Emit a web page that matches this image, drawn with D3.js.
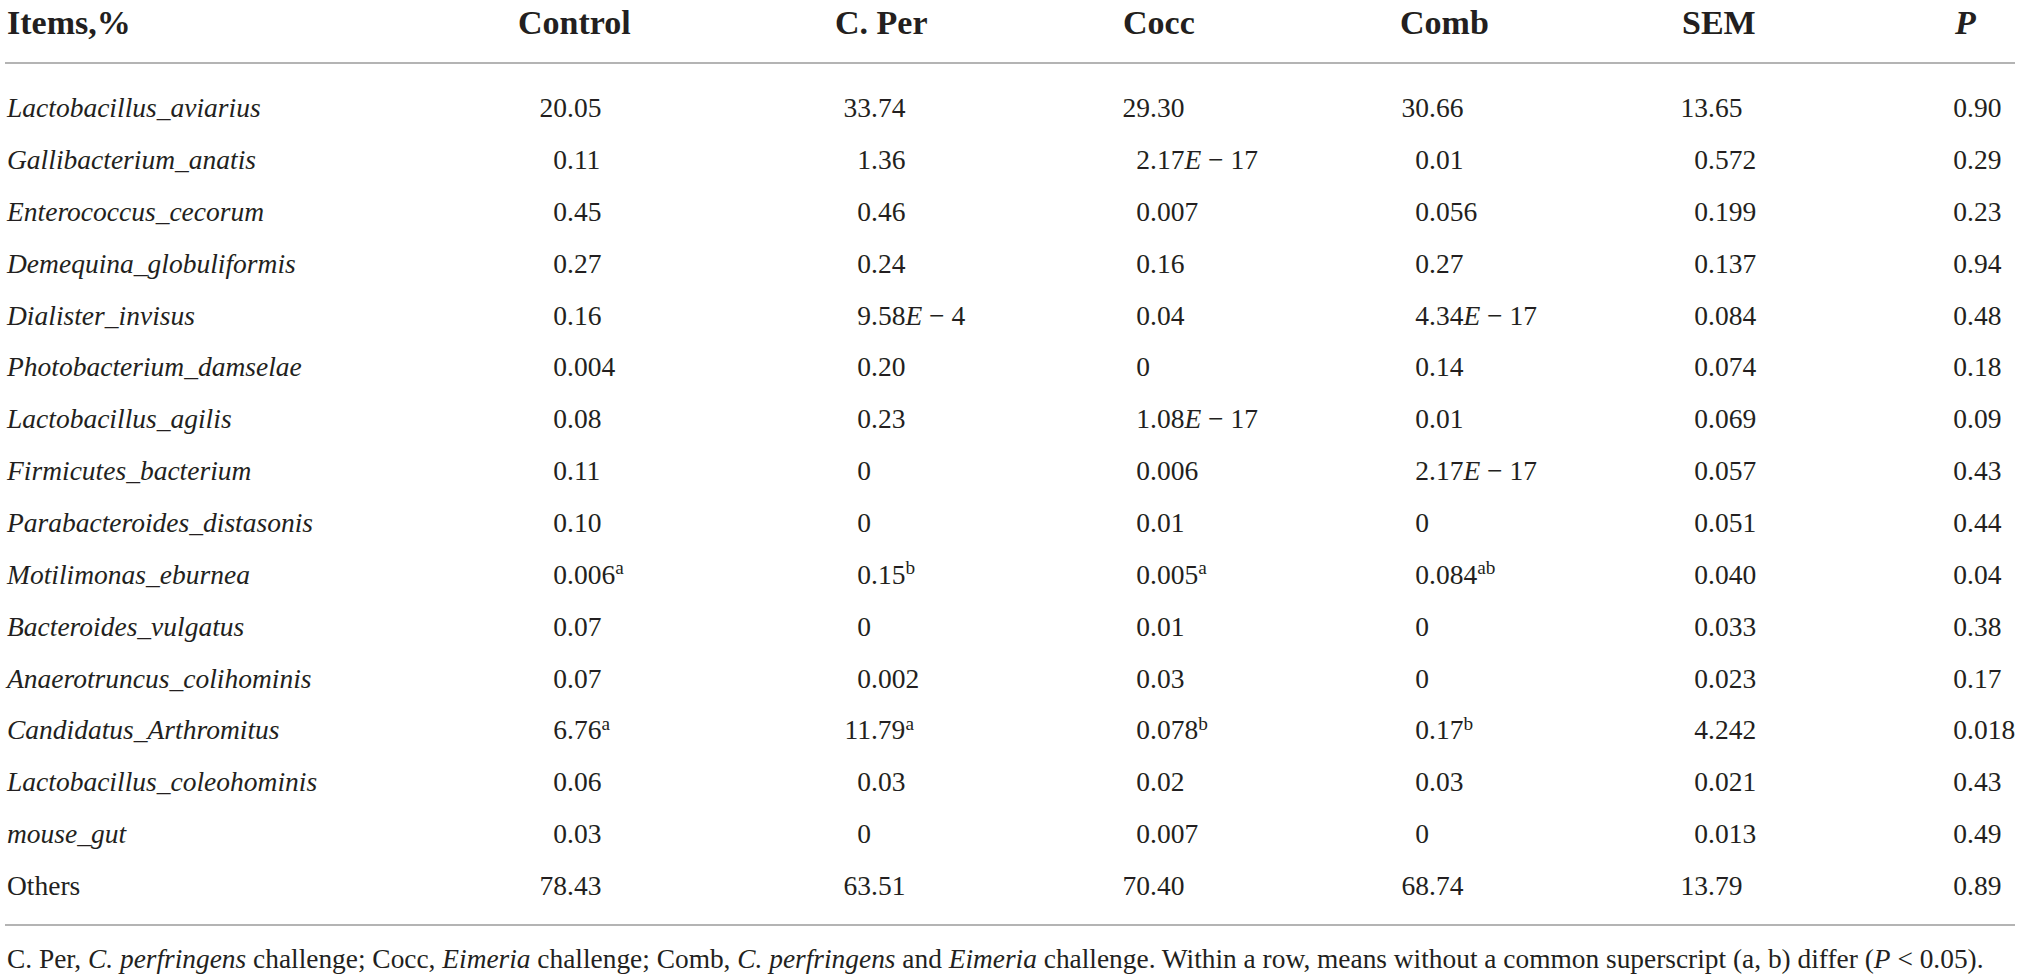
<!DOCTYPE html>
<html>
<head>
<meta charset="utf-8">
<script src="https://cdn.jsdelivr.net/npm/d3@7"></script>
<style>
    body { margin: 0; background: #fff; }
    svg text { font-family: "Liberation Serif", "Times New Roman", serif; fill: #231f20; }
</style>
</head>
<body>
<div class="table"></div>
<script>

// Datos de la tabla
const columns = ["Control", "C. Per", "Cocc", "Comb", "SEM", "P"];

const items = [
    "Lactobacillus_aviarius", "Gallibacterium_anatis", "Enterococcus_cecorum",
    "Demequina_globuliformis", "Dialister_invisus", "Photobacterium_damselae",
    "Lactobacillus_agilis", "Firmicutes_bacterium", "Parabacteroides_distasonis",
    "Motilimonas_eburnea", "Bacteroides_vulgatus", "Anaerotruncus_colihominis",
    "Candidatus_Arthromitus", "Lactobacillus_coleohominis", "mouse_gut", "Others"
];

const control = ["20.05", "0.11", "0.45", "0.27", "0.16", "0.004", "0.08", "0.11",
    "0.10", "0.006^a", "0.07", "0.07", "6.76^a", "0.06", "0.03", "78.43"];

const cPer = ["33.74", "1.36", "0.46", "0.24", "9.58E-4", "0.20", "0.23", "0",
    "0", "0.15^b", "0", "0.002", "11.79^a", "0.03", "0", "63.51"];

const cocc = ["29.30", "2.17E-17", "0.007", "0.16", "0.04", "0", "1.08E-17", "0.006",
    "0.01", "0.005^a", "0.01", "0.03", "0.078^b", "0.02", "0.007", "70.40"];

const comb = ["30.66", "0.01", "0.056", "0.27", "4.34E-17", "0.14", "0.01", "2.17E-17",
    "0", "0.084^ab", "0", "0", "0.17^b", "0.03", "0", "68.74"];

const sem = ["13.65", "0.572", "0.199", "0.137", "0.084", "0.074", "0.069", "0.057",
    "0.051", "0.040", "0.033", "0.023", "4.242", "0.021", "0.013", "13.79"];

const pValues = ["0.90", "0.29", "0.23", "0.94", "0.48", "0.18", "0.09", "0.43",
    "0.44", "0.04", "0.38", "0.17", "0.018", "0.43", "0.49", "0.89"];

const series = [control, cPer, cocc, comb, sem, pValues];

function drawTable(){

    const width = 2020;
    const height = 979;
    const bodySize = 27.5;

    const svg = d3.select(".table")
        .append("svg")
        .attr("width", width)
        .attr("height", height);

    // Escalas
    const y = d3.scalePoint()
        .domain(items)
        .range([108, 886]);

    const headerX = d3.scaleOrdinal()
        .domain(columns)
        .range([518, 835, 1123, 1400, 1682, 1955]);

    // posicion del punto decimal en cada columna
    const decimalX = d3.scaleOrdinal()
        .domain(columns)
        .range([567, 871, 1150, 1429, 1708, 1967]);

    const rule = d3.scaleLinear()
        .domain([0, 1])
        .range([5, 2015]);

    // Lineas
    svg.selectAll("line.rule")
        .data([63, 925])
        .enter()
        .append("line")
        .attr("class", "rule")
        .attr("x1", rule(0))
        .attr("x2", rule(1))
        .attr("y1", d => d)
        .attr("y2", d => d)
        .attr("stroke", "#9b9b9b")
        .attr("stroke-width", 1.6);

    // Encabezado
    svg.append("text")
        .attr("x", 7)
        .attr("y", 34)
        .style("font-size", "34px")
        .style("font-weight", "700")
        .text("Items,%");

    svg.selectAll("text.head")
        .data(columns)
        .enter()
        .append("text")
        .attr("class", "head")
        .attr("x", d => headerX(d))
        .attr("y", 34)
        .style("font-size", "34px")
        .style("font-weight", "700")
        .style("font-style", d => d === "P" ? "italic" : "normal")
        .text(d => d);

    // Nombres
    svg.selectAll("text.item")
        .data(items)
        .enter()
        .append("text")
        .attr("class", "item")
        .attr("x", 7)
        .attr("y", d => y(d))
        .attr("dy", "0.33em")
        .style("font-size", bodySize + "px")
        .style("font-style", d => d === "Others" ? "normal" : "italic")
        .text(d => d);

    // Medidor de texto
    const measure = svg.append("text")
        .style("font-size", bodySize + "px")
        .attr("visibility", "hidden");

    function textWidth(str){
        measure.text(str);
        return measure.node().getComputedTextLength();
    }

    const cells = [];
    series.forEach((values, c) => {
        values.forEach((v, r) => {
            const parts = v.split("^");
            const num = parts[0];
            const intPart = num.split(".")[0];
            cells.push({
                col: columns[c],
                row: items[r],
                num: num,
                sup: parts[1] || "",
                offset: textWidth(intPart)
            });
        });
    });

    measure.remove();

    // Valores
    const cellText = svg.selectAll("text.cell")
        .data(cells)
        .enter()
        .append("text")
        .attr("class", "cell")
        .attr("x", d => decimalX(d.col) - d.offset)
        .attr("y", d => y(d.row))
        .attr("dy", "0.33em")
        .style("font-size", bodySize + "px");

    cellText.each(function(d){

        const t = d3.select(this);

        if(d.num.includes("E")){
            const [mant, exp] = d.num.split("E");
            t.append("tspan").text(mant);
            t.append("tspan").style("font-style", "italic").text("E");
            t.append("tspan").text(" \u2212 " + exp.replace("-", ""));
        } else {
            t.append("tspan").text(d.num);
        }

        if(d.sup){
            t.append("tspan")
                .attr("dy", "-0.5em")
                .style("font-size", "0.7em")
                .text(d.sup);
        }

    });

    // Nota al pie
    const note = [
        ["C. Per, ", false], ["C. perfringens", true], [" challenge; Cocc, ", false],
        ["Eimeria", true], [" challenge; Comb, ", false], ["C. perfringens", true],
        [" and ", false], ["Eimeria", true],
        [" challenge. Within a row, means without a common superscript (a, b) differ (", false],
        ["P", true], [" < 0.05).", false]
    ];

    const foot = svg.append("text")
        .attr("x", 7)
        .attr("y", 968)
        .style("font-size", "26px");

    foot.selectAll("tspan")
        .data(note)
        .enter()
        .append("tspan")
        .style("font-style", d => d[1] ? "italic" : "normal")
        .text(d => d[0]);

    const footLen = foot.node().getComputedTextLength();
    foot.style("font-size", (26 * 1978 / footLen) + "px");

}

drawTable();

</script>
</body>
</html>
